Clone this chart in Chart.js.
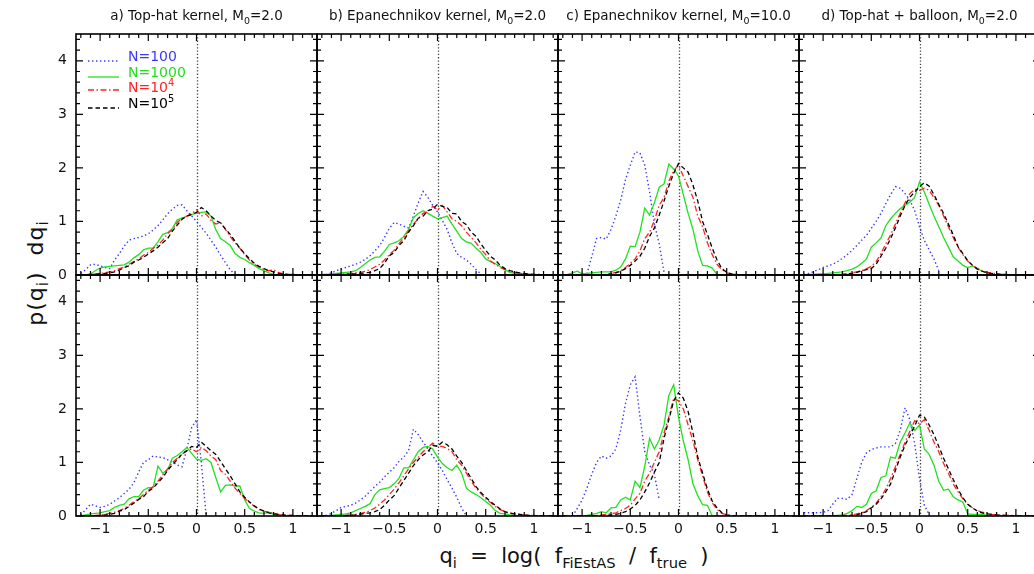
<!DOCTYPE html>
<html>
<head>
<meta charset="utf-8">
<script src="https://cdn.jsdelivr.net/npm/chart.js@4.4.1/dist/chart.umd.min.js"></script>
<style>
  body { margin: 0; background: #fff; }
  #fig { position: relative; width: 1034px; height: 574px; overflow: hidden; font-family: "DejaVu Sans", sans-serif; color: #111; }
  canvas { position: absolute; }
  .ttl { position: absolute; top: 7px; font-size: 13.5px; white-space: nowrap; transform: translateX(-50%); }
  sub, sup { font-size: 70%; line-height: 0; }
  .leg { position: absolute; font-size: 14px; line-height: 14px; white-space: nowrap; }
  .legline { position: absolute; }
  #ytitle { position: absolute; left: 35px; top: 273px; font-size: 22px; letter-spacing: 1px; white-space: pre; transform: translate(-50%, -50%) rotate(-90deg); }
  #xtitle { position: absolute; left: 574px; top: 556px; font-size: 21px; white-space: pre; transform: translate(-50%, -50%); }
</style>
</head>
<body>
<div id="fig">
  <div id="ytitle">p(q<sub>i</sub>)  dq<sub>i</sub></div>
  <div id="xtitle">q<sub>i</sub>  =  log(  f<sub>FiEstAS</sub>  /  f<sub>true</sub>  )</div>
</div>
<script>
const _ = null;

// bin centres (q_i) shared by every histogram
const qBins = [-1.2,-1.15,-1.1,-1.05,-1.0,-0.95,-0.9,-0.85,-0.8,-0.75,
  -0.7,-0.65,-0.6,-0.55,-0.5,-0.45,-0.4,-0.35,-0.3,-0.25,
  -0.2,-0.15,-0.1,-0.05,0,0.05,0.1,0.15,0.2,0.25,
  0.3,0.35,0.4,0.45,0.5,0.55,0.6,0.65,0.7,0.75,
  0.8,0.85,0.9,0.95,1.0,1.05,1.1,1.15,1.2];

const xTicks = [-1, -0.5, 0, 0.5, 1];
const yTicks = [0, 1, 2, 3, 4];

const panelTitles = [
  'a) Top-hat kernel, M<sub>0</sub>=2.0',
  'b) Epanechnikov kernel, M<sub>0</sub>=2.0',
  'c) Epanechnikov kernel, M<sub>0</sub>=10.0',
  'd) Top-hat + balloon, M<sub>0</sub>=2.0'
];
const legendLabels = ['N=100', 'N=1000', 'N=10<sup>4</sup>', 'N=10<sup>5</sup>'];

// ---- top row ----
const n100_a = [0.03,0.1,0.19,0.2,0.17,0.14,0.12,0.28,0.4,0.54,
  0.65,0.68,0.7,0.73,0.77,0.84,0.92,1.03,1.14,1.23,
  1.3,1.31,1.2,1.1,1.0,0.89,0.78,0.65,0.52,0.37,
  0.23,0.1,0.0,_,_,_,_,_,_,_,
  _,_,_,_,_,_,_,_,_];
const n1000_a = [0,0,0.02,0.08,0.13,0.15,0.16,0.17,0.18,0.19,
  0.24,0.32,0.38,0.47,0.5,0.5,0.62,0.76,0.79,0.87,
  1.03,1.06,1.1,1.13,1.15,1.17,1.18,1.1,0.85,0.68,
  0.62,0.55,0.4,0.33,0.29,0.23,0.18,0.12,0.08,0.04,
  0.01,0,0,0,0,0,0,0,0];
const n1e4_a = [0,0,0.01,0.02,0.03,0.04,0.06,0.08,0.12,0.15,
  0.2,0.25,0.3,0.37,0.42,0.5,0.56,0.65,0.77,0.85,
  0.98,1.06,1.1,1.15,1.22,1.1,1.14,1.02,0.95,0.98,
  0.85,0.72,0.6,0.5,0.38,0.28,0.2,0.15,0.1,0.08,
  0.1,0.05,0.02,0.01,0.01,0,0,0,0];
const n1e5_a = [0,0,0.01,0.01,0.02,0.03,0.04,0.06,0.09,0.14,
  0.17,0.24,0.28,0.33,0.39,0.45,0.52,0.6,0.68,0.82,
  0.93,1.04,1.1,1.13,1.17,1.26,1.2,1.1,1.02,0.97,
  0.86,0.76,0.63,0.5,0.4,0.3,0.22,0.16,0.12,0.08,
  0.06,0.03,0.02,0.01,0.01,0,0,0,0];

const n100_b = [0,0.01,0.04,0.08,0.11,0.14,0.17,0.2,0.24,0.29,
  0.36,0.45,0.55,0.7,0.87,0.98,0.95,0.91,0.88,1.1,
  1.35,1.56,1.45,1.3,1.18,1.02,0.85,0.6,0.4,0.33,
  0.28,0.2,0.1,0.02,_,_,_,_,_,_,
  _,_,_,_,_,_,_,_,_];
const n1000_b = [0.01,0.01,0.02,0.03,0.04,0.05,0.06,0.08,0.14,0.21,
  0.28,0.33,0.34,0.44,0.57,0.6,0.64,0.72,0.85,1.07,
  1.15,1.2,1.15,1.1,1.05,1.07,1.1,0.95,0.82,0.68,
  0.62,0.59,0.5,0.42,0.3,0.25,0.21,0.16,0.1,0.05,
  0.03,0.03,0.02,0.01,0.01,0,0,0,0];
const n1e4_b = [0,0,0,0.01,0.02,0.02,0.03,0.04,0.05,0.07,
  0.1,0.15,0.2,0.28,0.38,0.46,0.58,0.7,0.82,0.95,
  1.05,1.15,1.18,1.28,1.22,1.3,1.18,1.05,1.0,0.92,
  0.8,0.7,0.6,0.48,0.38,0.26,0.2,0.14,0.1,0.07,
  0.05,0.03,0.02,0.01,0.01,0,0,0,0];
const n1e5_b = [0,0,0,0.01,0.01,0.01,0.02,0.02,0.03,0.04,
  0.05,0.08,0.12,0.22,0.36,0.42,0.55,0.64,0.8,0.92,
  1.06,1.1,1.2,1.23,1.32,1.28,1.26,1.15,1.14,1.0,
  0.94,0.8,0.72,0.58,0.46,0.35,0.28,0.18,0.12,0.08,
  0.06,0.04,0.03,0.02,0.01,0.01,0,0,0];

const n100_c = [_,_,_,_,_,0.02,0.34,0.68,0.7,0.67,
  0.85,1.1,1.4,1.78,2.05,2.3,2.28,2.05,1.55,0.95,
  0.58,0.05,_,_,_,_,_,_,_,_,
  _,_,_,_,_,_,_,_,_,_,
  _,_,_,_,_,_,_,_,_];
const n1000_c = [0,0.01,0.04,0.07,0.02,0.03,0.04,0.05,0.06,0.06,
  0.06,0.09,0.15,0.3,0.54,0.53,0.8,1.25,1.12,1.35,
  1.64,1.7,2.07,1.98,1.85,1.5,1.15,0.85,0.45,0.18,
  0.17,0.13,0.01,0,0,0,0,0,0,0,
  0,0,0,0,0,0,0,0,0];
const n1e4_c = [0,0,0,0,0,0,0,0,0,0.01,
  0.03,0.05,0.08,0.14,0.22,0.3,0.45,0.68,0.8,1.02,
  1.3,1.45,1.75,1.95,2.05,1.85,1.65,1.45,1.1,0.9,
  0.6,0.38,0.2,0.1,0.04,0.02,0.01,0,0,0,
  0,0,0,0,0,0,0,0,0];
const n1e5_c = [0,0,0,0,0,0,0,0,0,0.01,
  0.02,0.04,0.07,0.12,0.18,0.26,0.35,0.5,0.72,0.88,
  1.12,1.38,1.66,1.9,2.08,2.0,1.92,1.68,1.38,1.0,
  0.76,0.5,0.28,0.12,0.05,0.02,0.01,0,0,0,
  0,0,0,0,0,0,0,0,0];

const n100_d = [0.01,0.03,0.06,0.1,0.14,0.17,0.2,0.25,0.31,0.38,
  0.46,0.55,0.65,0.74,0.87,1.0,1.15,1.33,1.5,1.65,
  1.62,1.52,1.4,1.2,0.9,0.65,0.47,0.3,0.08,_,
  _,_,_,_,_,_,_,_,_,_,
  _,_,_,_,_,_,_,_,_];
const n1000_d = [0,0.01,0.01,0.02,0.02,0.03,0.04,0.05,0.06,0.08,
  0.11,0.15,0.22,0.3,0.52,0.6,0.69,0.92,1.05,1.15,
  1.24,1.3,1.36,1.45,1.74,1.55,1.32,1.1,0.9,0.7,
  0.52,0.34,0.26,0.18,0.14,0.17,0.12,0.07,0.04,0.01,
  0,0,0,0,0,0,0,0,0];
const n1e4_d = [0,0,0,0,0,0,0,0,0.01,0.02,
  0.04,0.06,0.08,0.12,0.16,0.25,0.4,0.58,0.75,0.95,
  1.15,1.35,1.52,1.6,1.58,1.62,1.58,1.45,1.3,1.1,
  0.9,0.7,0.52,0.38,0.26,0.18,0.12,0.08,0.05,0.04,
  0.02,0.01,0.01,0,0,0,0,0,0];
const n1e5_d = [0,0,0,0,0,0,0,0,0.01,0.02,
  0.03,0.05,0.08,0.1,0.12,0.2,0.35,0.5,0.68,0.88,
  1.1,1.3,1.45,1.55,1.65,1.72,1.66,1.5,1.32,1.15,
  0.95,0.75,0.53,0.4,0.27,0.18,0.11,0.07,0.04,0.03,
  0.02,0.01,0.01,0,0,0,0,0,0];

// ---- bottom row ----
const n100_e = [0.02,0.12,0.22,0.19,0.16,0.18,0.22,0.28,0.34,0.42,
  0.5,0.62,0.82,1.0,1.05,1.12,1.1,1.09,1.05,1.01,
  0.95,0.92,1.25,1.65,1.8,1.0,0,_,_,_,
  _,_,_,_,_,_,_,_,_,_,
  _,_,_,_,_,_,_,_,_];
const n1000_e = [0,0.02,0.04,0.05,0.06,0.08,0.1,0.16,0.2,0.22,
  0.32,0.36,0.36,0.48,0.53,0.53,0.93,0.8,0.86,1.08,
  1.13,1.2,1.28,1.17,1.06,1.04,1.07,1.0,0.72,0.45,
  0.57,0.58,0.56,0.56,0.3,0.14,0.09,0.06,0.05,0.07,
  0.03,0,0,0,0,0,0,0,0];
const n1e4_e = [0,0,0,0.01,0.02,0.03,0.05,0.07,0.1,0.14,
  0.2,0.27,0.32,0.4,0.48,0.55,0.65,0.77,0.88,1.0,
  1.08,1.15,1.22,1.25,1.2,1.28,1.22,1.12,1.05,0.85,
  0.78,0.65,0.52,0.42,0.33,0.25,0.18,0.12,0.09,0.07,
  0.05,0.03,0.02,0.01,0.01,0,0,0,0];
const n1e5_e = [0,0,0,0,0.01,0.02,0.03,0.05,0.09,0.12,
  0.18,0.24,0.31,0.36,0.46,0.52,0.62,0.72,0.85,0.96,
  1.05,1.16,1.22,1.3,1.28,1.38,1.3,1.22,1.15,1.02,
  0.88,0.75,0.6,0.45,0.35,0.26,0.19,0.13,0.09,0.06,
  0.04,0.03,0.02,0.01,0.01,0,0,0,0];

const n100_f = [0,0.01,0.05,0.1,0.16,0.18,0.2,0.24,0.3,0.37,
  0.46,0.55,0.63,0.73,0.82,0.9,1.02,1.1,1.22,1.62,
  1.52,1.38,1.26,1.12,0.99,0.85,0.68,0.52,0.35,0.15,
  0,_,_,_,_,_,_,_,_,_,
  _,_,_,_,_,_,_,_,_];
const n1000_f = [0,0,0.01,0.02,0.03,0.04,0.06,0.1,0.14,0.18,
  0.23,0.4,0.49,0.51,0.53,0.6,0.7,0.9,0.9,1.05,
  1.2,1.28,1.3,1.25,1.1,0.98,0.9,0.85,0.95,0.8,
  0.52,0.45,0.4,0.34,0.27,0.2,0.1,0.05,0.04,0.02,
  0.01,0,0,0,0,0,0,0,0];
const n1e4_f = [0,0,0,0,0.01,0.01,0.02,0.03,0.05,0.07,
  0.1,0.15,0.22,0.3,0.4,0.5,0.62,0.75,0.88,1.0,
  1.1,1.2,1.28,1.36,1.3,1.3,1.26,1.2,1.05,0.95,
  0.8,0.65,0.52,0.42,0.32,0.25,0.18,0.12,0.08,0.06,
  0.04,0.03,0.02,0.01,0.01,0,0,0,0];
const n1e5_f = [0,0,0,0,0,0.01,0.01,0.02,0.03,0.05,
  0.06,0.08,0.12,0.2,0.3,0.38,0.52,0.66,0.8,0.94,
  1.05,1.14,1.2,1.32,1.3,1.38,1.33,1.25,1.12,1.0,
  0.85,0.7,0.55,0.44,0.35,0.27,0.2,0.13,0.08,0.05,
  0.04,0.03,0.02,0.01,0.01,0,0,0,0];

const n100_g = [_,_,0,0.14,0.3,0.52,0.78,1.0,1.12,1.08,
  1.12,1.25,1.6,2.1,2.45,2.6,1.86,1.2,0.95,0.78,
  0.3,_,_,_,_,_,_,_,_,_,
  _,_,_,_,_,_,_,_,_,_,
  _,_,_,_,_,_,_,_,_];
const n1000_g = [0,0,0,0,0,0.01,0.03,0.05,0.08,0.06,
  0.15,0.16,0.3,0.35,0.3,0.65,0.53,0.93,1.45,1.25,
  1.42,1.7,2.25,2.45,1.85,1.4,1.05,0.6,0.38,0.21,
  0.2,0,0,0,0,0,0,0,0,0,
  0,0,0,0,0,0,0,0,0];
const n1e4_g = [0,0,0,0,0,0,0.01,0.01,0.02,0.03,
  0.04,0.06,0.1,0.14,0.2,0.32,0.42,0.65,0.8,1.0,
  1.2,1.55,1.85,2.2,2.15,2.0,1.7,1.4,1.05,0.75,
  0.45,0.25,0.12,0.05,0.02,0.01,0,0,0,0,
  0,0,0,0,0,0,0,0,0];
const n1e5_g = [0,0,0,0,0,0,0,0,0,0.01,
  0.02,0.03,0.05,0.08,0.13,0.2,0.3,0.45,0.62,0.82,
  1.0,1.45,1.8,2.15,2.3,2.2,1.95,1.55,1.1,0.8,
  0.5,0.28,0.15,0.06,0.02,0.01,0,0,0,0,
  0,0,0,0,0,0,0,0,0];

const n100_h = [0.06,0.06,0.06,0.06,0.07,0.1,0.22,0.33,0.33,0.31,
  0.4,0.7,1.0,1.18,1.24,1.27,1.29,1.29,1.29,1.35,
  1.6,2.02,1.8,1.35,0.7,0.2,0.03,_,_,_,
  _,_,_,_,_,_,_,_,_,_,
  _,_,_,_,_,_,_,_,_];
const n1000_h = [0,0,0,0,0,0,0,0.01,0.02,0.05,
  0.1,0.18,0.16,0.22,0.42,0.47,0.72,0.75,1.1,1.08,
  1.38,1.55,1.74,1.6,1.7,1.25,1.15,0.95,0.65,0.48,
  0.5,0.36,0.3,0.26,0.04,0.03,0.03,0.03,0.01,0,
  0,0,0,0,0,0,0,0,0];
const n1e4_h = [0,0,0,0,0,0,0,0,0.01,0.01,
  0.02,0.04,0.06,0.1,0.16,0.24,0.36,0.5,0.7,0.92,
  1.15,1.38,1.58,1.78,1.72,1.8,1.6,1.38,1.2,0.98,
  0.8,0.6,0.45,0.32,0.22,0.15,0.1,0.07,0.05,0.03,
  0.02,0.02,0.01,0.01,0.01,0,0,0,0];
const n1e5_h = [0,0,0,0,0,0,0,0,0,0,
  0.01,0.02,0.05,0.08,0.15,0.22,0.32,0.45,0.6,0.85,
  1.1,1.32,1.5,1.68,1.88,1.85,1.7,1.52,1.3,1.08,
  0.88,0.68,0.5,0.34,0.22,0.15,0.09,0.06,0.04,0.03,
  0.02,0.01,0.01,0,0,0,0,0,0];

const panels = [
  [n100_a, n1000_a, n1e4_a, n1e5_a], [n100_b, n1000_b, n1e4_b, n1e5_b],
  [n100_c, n1000_c, n1e4_c, n1e5_c], [n100_d, n1000_d, n1e4_d, n1e5_d],
  [n100_e, n1000_e, n1e4_e, n1e5_e], [n100_f, n1000_f, n1e4_f, n1e5_f],
  [n100_g, n1000_g, n1e4_g, n1e5_g], [n100_h, n1000_h, n1e4_h, n1e5_h]
];

// line style per N
const styles = [
  { color: '#3838ff', width: 1.4, dash: [1.4, 2.6] },
  { color: '#22e022', width: 1.3, dash: [] },
  { color: '#ff2424', width: 1.3, dash: [6, 2.5, 1.5, 2.5] },
  { color: '#000000', width: 1.3, dash: [4.5, 3] }
];

const colLeft = [76, 317, 558, 799];
const rowTop = [34, 275];
const PW = 241, PH = 241;
const M = { l: 76, t: 10, r: 10, b: 40 };
const FONT = { family: 'DejaVu Sans', size: 14 };

const fmt = v => (v < 0 ? '\u2212' : '') + Math.abs(v);

// frame, inward ticks and the q=0 dotted line
const framePlugin = {
  id: 'frame',
  beforeDatasetsDraw(chart) {
    const { ctx, chartArea: a, scales: { x } } = chart;
    const px = Math.round(x.getPixelForValue(0)) + 0.5;
    ctx.save();
    ctx.strokeStyle = '#444';
    ctx.lineWidth = 1.3;
    ctx.setLineDash([1.3, 2]);
    ctx.beginPath();
    ctx.moveTo(px, a.top);
    ctx.lineTo(px, a.bottom);
    ctx.stroke();
    ctx.restore();
  },
  afterDatasetsDraw(chart) {
    const { ctx, chartArea: a, scales: { x, y } } = chart;
    ctx.save();
    ctx.strokeStyle = '#000';
    ctx.lineWidth = 1.2;
    ctx.beginPath();
    for (let k = -12; k <= 12; k++) {
      const px = x.getPixelForValue(k / 10);
      const len = k % 5 === 0 ? 7 : 4;
      ctx.moveTo(px, a.bottom); ctx.lineTo(px, a.bottom - len);
      ctx.moveTo(px, a.top); ctx.lineTo(px, a.top + len);
    }
    for (let k = 0; k <= 22; k++) {
      const py = y.getPixelForValue(k * 0.2);
      const len = k % 5 === 0 ? 7 : 4;
      ctx.moveTo(a.left, py); ctx.lineTo(a.left + len, py);
      ctx.moveTo(a.right, py); ctx.lineTo(a.right - len, py);
    }
    ctx.stroke();
    ctx.lineWidth = 1.6;
    ctx.strokeRect(a.left, a.top, a.right - a.left, a.bottom - a.top);
    ctx.restore();
  }
};

const fig = document.getElementById('fig');

panels.forEach((series, idx) => {
  const r = Math.floor(idx / 4), c = idx % 4;
  const cv = document.createElement('canvas');
  const w = M.l + PW + M.r, h = M.t + PH + M.b;
  cv.width = w; cv.height = h;
  cv.style.width = w + 'px'; cv.style.height = h + 'px';
  cv.style.left = (colLeft[c] - M.l) + 'px';
  cv.style.top = (rowTop[r] - M.t) + 'px';
  fig.appendChild(cv);

  new Chart(cv.getContext('2d'), {
    type: 'line',
    data: {
      datasets: series.map((vals, s) => ({
        label: legendLabels[s],
        data: qBins.map((q, i) => ({ x: q, y: vals[i] })),
        borderColor: styles[s].color,
        borderWidth: styles[s].width,
        borderDash: styles[s].dash,
        pointRadius: 0,
        tension: 0,
        fill: false,
        order: 4 - s
      }))
    },
    options: {
      responsive: false,
      animation: false,
      events: [],
      layout: { padding: { top: M.t, right: M.r, left: 0, bottom: 0 } },
      plugins: { legend: { display: false }, tooltip: { enabled: false } },
      scales: {
        x: {
          type: 'linear', position: 'bottom', min: -1.25, max: 1.25,
          grid: { display: false, drawTicks: false },
          border: { display: false },
          ticks: { display: r === 1, padding: 5, maxRotation: 0, color: '#111', font: FONT, callback: fmt },
          afterBuildTicks: s => { s.ticks = xTicks.map(v => ({ value: v })); },
          afterFit: s => { s.height = M.b; s.paddingLeft = 0; s.paddingRight = 0; }
        },
        y: {
          type: 'linear', position: 'left', min: 0, max: 4.5,
          grid: { display: false, drawTicks: false },
          border: { display: false },
          ticks: { display: c === 0, padding: 9, color: '#111', font: FONT, callback: fmt },
          afterBuildTicks: s => { s.ticks = yTicks.map(v => ({ value: v })); },
          afterFit: s => { s.width = M.l; s.paddingTop = 0; s.paddingBottom = 0; }
        }
      }
    },
    plugins: [framePlugin]
  });
});

// column titles
panelTitles.forEach((t, c) => {
  const d = document.createElement('div');
  d.className = 'ttl';
  d.style.left = (colLeft[c] + PW / 2) + 'px';
  d.innerHTML = t;
  fig.appendChild(d);
});

// legend in panel a
const legRows = [61, 77, 92, 108];
const legSample = [61, 76.5, 89.5, 108];
legendLabels.forEach((lab, s) => {
  const svgNS = 'http://www.w3.org/2000/svg';
  const svg = document.createElementNS(svgNS, 'svg');
  svg.setAttribute('width', 32); svg.setAttribute('height', 6);
  svg.setAttribute('class', 'legline');
  svg.style.left = '88px';
  svg.style.top = (legSample[s] - 3) + 'px';
  const ln = document.createElementNS(svgNS, 'line');
  ln.setAttribute('x1', 0); ln.setAttribute('x2', 31);
  ln.setAttribute('y1', 3); ln.setAttribute('y2', 3);
  ln.setAttribute('stroke', styles[s].color);
  ln.setAttribute('stroke-width', styles[s].width);
  if (styles[s].dash.length) ln.setAttribute('stroke-dasharray', styles[s].dash.join(' '));
  svg.appendChild(ln);
  fig.appendChild(svg);

  const t = document.createElement('div');
  t.className = 'leg';
  t.style.left = '128px';
  t.style.top = (legRows[s] - 12) + 'px';
  t.style.color = styles[s].color;
  t.innerHTML = lab;
  fig.appendChild(t);
});
</script>
</body>
</html>
